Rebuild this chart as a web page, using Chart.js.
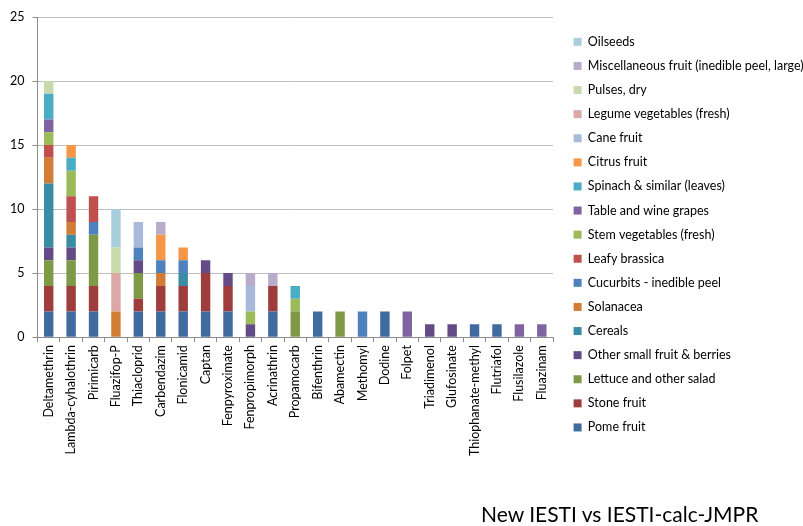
<!DOCTYPE html>
<html>
<head>
<meta charset="utf-8">
<script src="https://cdn.jsdelivr.net/npm/chart.js@4"></script>
<style>
  html, body { margin: 0; padding: 0; background: #fff; }
  .wrap { position: relative; width: 803px; height: 526px; }
  .caption {
    position: absolute; left: 481px; top: 503px;
    font-family: Lato, sans-serif; font-size: 21px; line-height: 21px; color: #000;
  }
</style>
</head>
<body>
<div class="wrap">
  <canvas id="pesticideChart" width="803" height="526"></canvas>
  <div class="caption">New IESTI vs IESTI-calc-JMPR</div>
</div>
<script>
// pesticides on the x axis
var categories = ['Deltamethrin', 'Lambda-cyhalothrin', 'Pirimicarb', 'Fluazifop-P', 'Thiacloprid',
    'Carbendazim', 'Flonicamid', 'Captan', 'Fenpyroximate', 'Fenpropimorph', 'Acrinathrin',
    'Propamocarb', 'Bifenthrin', 'Abamectin', 'Methomyl', 'Dodine', 'Folpet', 'Triadimenol',
    'Glufosinate', 'Thiophanate-methyl', 'Flutriafol', 'Flusilazole', 'Fluazinam'];

// counts per commodity group, one value per pesticide
var pomeFruit      = [2, 2, 2, 0, 2, 2, 2, 2, 2, 0, 2, 0, 2, 0, 0, 2, 0, 0, 0, 1, 1, 0, 0];
var stoneFruit     = [2, 2, 2, 0, 1, 2, 2, 3, 2, 0, 2, 0, 0, 0, 0, 0, 0, 0, 0, 0, 0, 0, 0];
var lettuceSalad   = [2, 2, 4, 0, 2, 0, 0, 0, 0, 0, 0, 2, 0, 2, 0, 0, 0, 0, 0, 0, 0, 0, 0];
var otherBerries   = [1, 1, 0, 0, 1, 0, 0, 1, 1, 1, 0, 0, 0, 0, 0, 0, 0, 1, 1, 0, 0, 0, 0];
var cereals        = [5, 1, 0, 0, 0, 0, 1, 0, 0, 0, 0, 0, 0, 0, 0, 0, 0, 0, 0, 0, 0, 0, 0];
var solanacea      = [2, 1, 0, 2, 0, 1, 0, 0, 0, 0, 0, 0, 0, 0, 0, 0, 0, 0, 0, 0, 0, 0, 0];
var cucurbits      = [0, 0, 1, 0, 1, 1, 1, 0, 0, 0, 0, 0, 0, 0, 2, 0, 0, 0, 0, 0, 0, 0, 0];
var leafyBrassica  = [1, 2, 2, 0, 0, 0, 0, 0, 0, 0, 0, 0, 0, 0, 0, 0, 0, 0, 0, 0, 0, 0, 0];
var stemVeg        = [1, 2, 0, 0, 0, 0, 0, 0, 0, 1, 0, 1, 0, 0, 0, 0, 0, 0, 0, 0, 0, 0, 0];
var tableGrapes    = [1, 0, 0, 0, 0, 0, 0, 0, 0, 0, 0, 0, 0, 0, 0, 0, 2, 0, 0, 0, 0, 1, 1];
var spinach        = [2, 1, 0, 0, 0, 0, 0, 0, 0, 0, 0, 1, 0, 0, 0, 0, 0, 0, 0, 0, 0, 0, 0];
var citrusFruit    = [0, 1, 0, 0, 0, 2, 1, 0, 0, 0, 0, 0, 0, 0, 0, 0, 0, 0, 0, 0, 0, 0, 0];
var caneFruit      = [0, 0, 0, 0, 2, 0, 0, 0, 0, 2, 0, 0, 0, 0, 0, 0, 0, 0, 0, 0, 0, 0, 0];
var legumeVeg      = [0, 0, 0, 3, 0, 0, 0, 0, 0, 0, 0, 0, 0, 0, 0, 0, 0, 0, 0, 0, 0, 0, 0];
var pulsesDry      = [1, 0, 0, 2, 0, 0, 0, 0, 0, 0, 0, 0, 0, 0, 0, 0, 0, 0, 0, 0, 0, 0, 0];
var miscFruit      = [0, 0, 0, 0, 0, 1, 0, 0, 0, 1, 1, 0, 0, 0, 0, 0, 0, 0, 0, 0, 0, 0, 0];
var oilseeds       = [0, 0, 0, 3, 0, 0, 0, 0, 0, 0, 0, 0, 0, 0, 0, 0, 0, 0, 0, 0, 0, 0, 0];

var yTicks = [0, 5, 10, 15, 20, 25];

function series(label, data, color) {
    return {
        label: label,
        data: data,
        backgroundColor: color,
        borderWidth: 0,
        categoryPercentage: 1,
        barPercentage: 0.42
    };
}

// bottom of the stack first
var datasets = [
    series('Pome fruit', pomeFruit, '#406B9F'),
    series('Stone fruit', stoneFruit, '#9E3D3B'),
    series('Lettuce and other salad', lettuceSalad, '#7E9A46'),
    series('Other small fruit & berries', otherBerries, '#634C85'),
    series('Cereals', cereals, '#3A8CA3'),
    series('Solanacea', solanacea, '#D27D35'),
    series('Cucurbits - inedible peel', cucurbits, '#4F81BD'),
    series('Leafy brassica', leafyBrassica, '#C0504D'),
    series('Stem vegetables (fresh)', stemVeg, '#9BBB59'),
    series('Table and wine grapes', tableGrapes, '#8064A2'),
    series('Spinach & similar (leaves)', spinach, '#4BACC6'),
    series('Citrus fruit', citrusFruit, '#F79646'),
    series('Cane fruit', caneFruit, '#A8B9D9'),
    series('Legume vegetables (fresh)', legumeVeg, '#DBA7A7'),
    series('Pulses, dry', pulsesDry, '#C8D9AB'),
    series('Miscellaneous fruit (inedible peel, large)', miscFruit, '#B8ACCC'),
    series('Oilseeds', oilseeds, '#A8CEDC')
];

// nudge the legend away from the plot, like the original
var legendShift = {
    id: 'legendShift',
    afterLayout: function (chart) {
        chart.legend.left = chart.chartArea.right + 9;
        chart.legend.top += 7;
    }
};

var ctx = document.getElementById('pesticideChart').getContext('2d');
new Chart(ctx, {
    type: 'bar',
    data: {
        labels: categories,
        datasets: datasets
    },
    plugins: [legendShift],
    options: {
        responsive: false,
        animation: false,
        layout: {
            padding: { left: 2, top: 17, bottom: 67, right: 0 }
        },
        plugins: {
            tooltip: { enabled: false },
            legend: {
                position: 'right',
                align: 'start',
                reverse: true,
                maxWidth: 250,
                labels: {
                    boxWidth: 8,
                    boxHeight: 8,
                    padding: 11.6,
                    color: '#000',
                    font: { family: 'Lato', size: 12.5 }
                }
            }
        },
        scales: {
            x: {
                stacked: true,
                grid: {
                    drawOnChartArea: false,
                    tickLength: 5,
                    tickColor: '#8C8C8C'
                },
                border: { color: '#8C8C8C' },
                ticks: {
                    minRotation: 90,
                    maxRotation: 90,
                    padding: 3,
                    color: '#000',
                    font: { family: 'Lato', size: 12.5 }
                }
            },
            y: {
                stacked: true,
                min: 0,
                max: 25,
                afterBuildTicks: function (axis) {
                    axis.ticks = yTicks.map(function (v) { return { value: v }; });
                },
                grid: {
                    color: '#BEBEBE',
                    tickColor: '#8C8C8C',
                    tickLength: 5
                },
                border: { color: '#8C8C8C' },
                ticks: {
                    padding: 8,
                    color: '#000',
                    font: { family: 'Lato', size: 12.5 }
                }
            }
        }
    }
});
</script>
</body>
</html>
